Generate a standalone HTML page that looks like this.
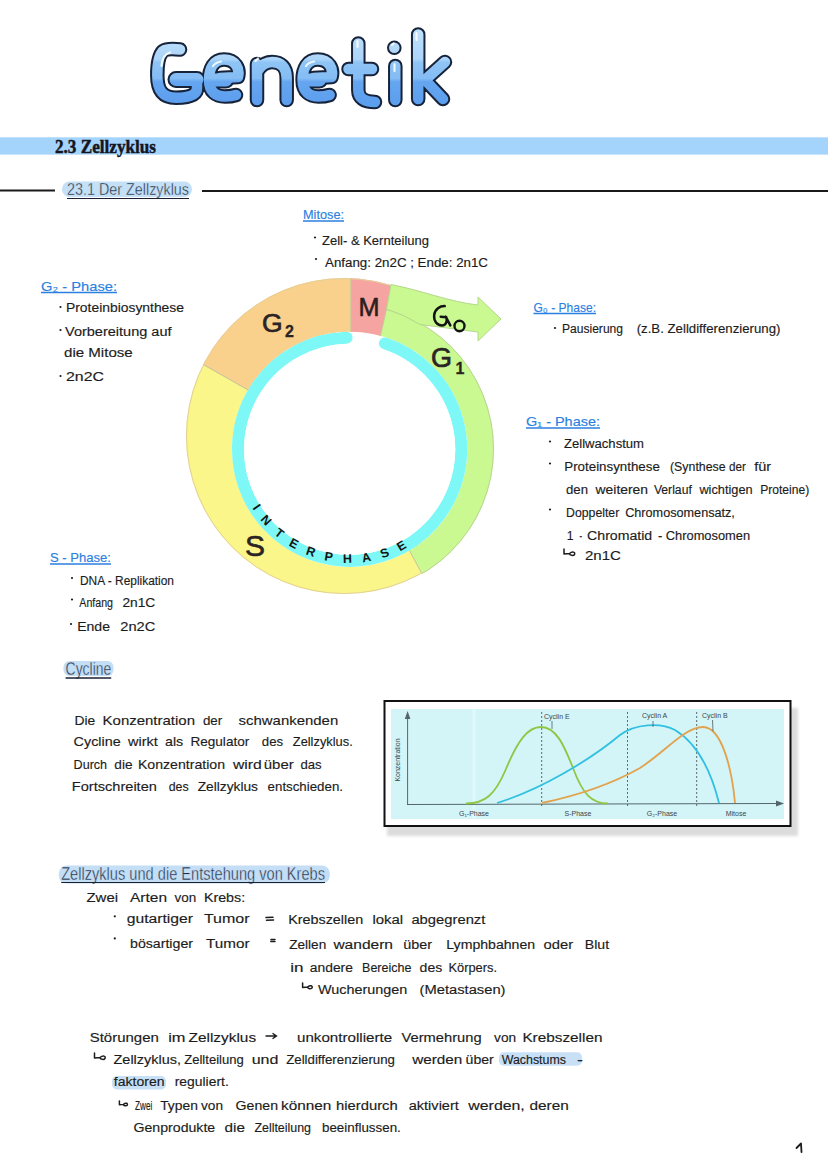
<!DOCTYPE html>
<html><head><meta charset="utf-8"><style>
html,body{margin:0;padding:0;background:#fff;}
svg{display:block;}
</style></head><body>
<svg width="828" height="1171" viewBox="0 0 828 1171">
<rect x="0" y="0" width="828" height="1171" fill="#ffffff"/>
<defs><linearGradient id="tg" gradientUnits="userSpaceOnUse" x1="0" y1="28" x2="0" y2="108"><stop offset="0" stop-color="#c0e1fc"/><stop offset="0.39" stop-color="#acd5f9"/><stop offset="0.43" stop-color="#8fc4f5"/><stop offset="0.63" stop-color="#84bdf4"/><stop offset="0.67" stop-color="#66a6f0"/><stop offset="1" stop-color="#5a9dee"/></linearGradient></defs>
<path d="M180,49.5 C172,48.5 166,49 163,51 C159,55 157.3,63 157.3,75 C157.3,90 162,97.7 176,97.7 C189,97.7 197,95 197,88 L197,82 M220.0,78 L238.0,77 C240.0,69 236.0,59.5 224.0,59.5 C214.0,59.5 209.0,68 209.0,80 C209.0,92 216.0,96.5 225.0,96.5 C230.0,96.5 233.0,96 236.0,95 M257,100 L257,64 M257,72 C261,65 266,62 272,62 C281,62 286.7,67 286.7,78 L286.7,100 M313.6,78 L331.6,77 C333.6,69 329.6,59.5 317.6,59.5 C307.6,59.5 302.6,68 302.6,80 C302.6,92 309.6,96.5 318.6,96.5 C323.6,96.5 326.6,96 329.6,95 M358.3,43.5 L358.3,90 C358.3,98 364,102 375,102 M348.5,69 L372,69 M395.3,66 L395.3,100 M418.2,34.5 L418.2,99 M445,62 L425,80 L443,99" fill="none" stroke="#16233a" stroke-width="14.5" stroke-linecap="round" stroke-linejoin="round"/>
<circle cx="394.3" cy="47.8" r="7.3" fill="#16233a"/>
<path d="M176,79.5 L197,79.5 M215,80 L226,80 M308.6,80 L319.6,80" stroke="#16233a" stroke-width="17" stroke-linecap="round"/>
<path d="M180,49.5 C172,48.5 166,49 163,51 C159,55 157.3,63 157.3,75 C157.3,90 162,97.7 176,97.7 C189,97.7 197,95 197,88 L197,82 M220.0,78 L238.0,77 C240.0,69 236.0,59.5 224.0,59.5 C214.0,59.5 209.0,68 209.0,80 C209.0,92 216.0,96.5 225.0,96.5 C230.0,96.5 233.0,96 236.0,95 M257,100 L257,64 M257,72 C261,65 266,62 272,62 C281,62 286.7,67 286.7,78 L286.7,100 M313.6,78 L331.6,77 C333.6,69 329.6,59.5 317.6,59.5 C307.6,59.5 302.6,68 302.6,80 C302.6,92 309.6,96.5 318.6,96.5 C323.6,96.5 326.6,96 329.6,95 M358.3,43.5 L358.3,90 C358.3,98 364,102 375,102 M348.5,69 L372,69 M395.3,66 L395.3,100 M418.2,34.5 L418.2,99 M445,62 L425,80 L443,99" fill="none" stroke="url(#tg)" stroke-width="10.5" stroke-linecap="round" stroke-linejoin="round"/>
<circle cx="394.3" cy="47.8" r="5.3" fill="url(#tg)"/>
<path d="M176,79.5 L197,79.5 M215,80 L226,80 M308.6,80 L319.6,80" stroke="url(#tg)" stroke-width="13" stroke-linecap="round"/>
<path d="M161.5,66 C162,59 165,54 170,52.5 M213,66 C215,63 218,62 221,61.5 M255.5,61 L258,58.5 M306,66 C308,63 311,62 314,61.5 M357.5,41 L357.5,47 M392,45 L393.5,43.5 M394.5,64 L394.5,71 M416.5,33 L416.5,40" stroke="#ffffff" stroke-opacity="0.85" stroke-width="2.2" stroke-linecap="round" fill="none"/>
<rect x="0" y="137.3" width="828" height="17.3" fill="#a4d4fb"/>
<text x="55" y="152.5" textLength="101" lengthAdjust="spacingAndGlyphs" font-size="19.5" fill="#15151f" font-weight="bold" font-family='"Liberation Serif", serif' stroke="#15151f" stroke-width="0.5">2.3 Zellzyklus</text>
<line x1="0" y1="190.5" x2="55" y2="190.5" stroke="#1a1a1a" stroke-width="2"/>
<line x1="202" y1="191" x2="828" y2="191" stroke="#1a1a1a" stroke-width="2"/>
<rect x="62" y="181.5" width="130" height="15.5" rx="7.5" fill="#c4e0f7"/>
<text x="67" y="195" textLength="122" lengthAdjust="spacingAndGlyphs" font-size="16.5" fill="#1f2638" font-weight="normal" font-family='"Liberation Sans", sans-serif' stroke="#c4e0f7" stroke-width="0.4">23.1 Der Zellzyklus</text>
<line x1="67" y1="198.5" x2="189" y2="198.5" stroke="#1b2030" stroke-width="1.2"/>
<defs>
<clipPath id="band"><path fill-rule="evenodd" clip-rule="evenodd" d="M186,436 a158,158 0 1,0 316,0 a158,158 0 1,0 -316,0 Z M232.1,449.3 a117.6,117.6 0 1,0 235.2,0 a117.6,117.6 0 1,0 -235.2,0 Z"/></clipPath>
<clipPath id="band1"><path fill-rule="evenodd" clip-rule="evenodd" d="M204,449 a145,145 0 1,0 290,0 a145,145 0 1,0 -290,0 Z M232.1,449.3 a117.6,117.6 0 1,0 235.2,0 a117.6,117.6 0 1,0 -235.2,0 Z"/></clipPath>
</defs>
<defs><clipPath id="g1seg"><polygon points="411.5,200 378.3,345 382,500 447,620 560,620 560,200"/></clipPath></defs>
<g clip-path="url(#band1)"><polygon fill="#c9f990" points="411.5,200 378.3,345 382,500 447,620 560,620 560,200"/></g>
<circle cx="349" cy="449" r="144.5" fill="none" stroke="#bcd39a" stroke-width="1" clip-path="url(#g1seg)"/>
<g clip-path="url(#band)" stroke="#c9c49a" stroke-width="1">
<polygon fill="#fad18c" points="140,200 351,200 351,420 290,420 248,390 204,365 140,329"/>
<polygon fill="#f6a4a1" points="351,200 411.5,200 378.3,345 351,345"/>
<polygon fill="#fbf68a" points="140,329 204,365 248,390 290,420 382,500 447,620 140,620"/>
</g>
<defs><clipPath id="leftseg"><polygon points="140,200 411.5,200 378.3,345 382,500 447,620 140,620"/></clipPath></defs>
<circle cx="344" cy="436" r="157.5" fill="none" stroke="#e2cf98" stroke-width="1" clip-path="url(#leftseg)"/>
<path fill="#c9f990" stroke="#b5d88a" stroke-width="1" d="M391,284.5 C420,290 450,302 478,305 L478,297 L501,319 L478,341 L478,332 L420,324.5 A145,145 0 0,0 386.5,309 Z"/>
<path fill="none" stroke="#7ef8f6" stroke-width="12" stroke-linecap="round" d="M384.9,343.4 A111.6,111.6 0 1,1 346.6,337.7"/>
<circle cx="349.7" cy="449.3" r="105.6" fill="#ffffff"/>
<path id="ip" fill="none" d="M251.4,506.1 A113.5,113.5 0 0,0 430.0,529.6"/>
<text font-size="12.5" font-weight="bold" fill="#141414" font-family='"Liberation Sans", sans-serif' letter-spacing="10.7"><textPath href="#ip" startOffset="2">INTERPHASE</textPath></text>
<text x="262" y="332" font-size="26.5" fill="#2b2424" stroke="#2b2424" stroke-width="0.7" font-weight="normal" font-family='"Liberation Sans", sans-serif'>G</text>
<text x="285" y="337" font-size="16" fill="#2b2424" stroke="#2b2424" stroke-width="0.3" font-weight="bold" font-family='"Liberation Sans", sans-serif'>2</text>
<text x="358.5" y="315.5" font-size="26" textLength="21" lengthAdjust="spacingAndGlyphs" fill="#2b2020" stroke="#2b2020" stroke-width="0.6" font-family='"Liberation Sans", sans-serif'>M</text>
<text x="431" y="367" font-size="27" fill="#2b2424" stroke="#2b2424" stroke-width="0.7" font-weight="normal" font-family='"Liberation Sans", sans-serif'>G</text>
<text x="455.5" y="373.5" font-size="16" fill="#2b2424" stroke="#2b2424" stroke-width="0.3" font-weight="bold" font-family='"Liberation Sans", sans-serif'>1</text>
<text x="245" y="555.5" font-size="30" fill="#2b2424" stroke="#2b2424" stroke-width="0.6" font-weight="normal" font-family='"Liberation Sans", sans-serif'>S</text>
<path d="M444.7,306.1 C440,306 435,309 434.2,315 C433.5,321 437,325.5 442.2,325.4 C446,325.3 447.5,321 446.3,317.2 L440.7,316.7 M445.8,316.7 L450.3,325.4" fill="none" stroke="#141414" stroke-width="2.5" stroke-linecap="round" stroke-linejoin="round"/>
<ellipse cx="459.5" cy="326" rx="5" ry="5.3" fill="none" stroke="#141414" stroke-width="2.4"/>
<text x="303" y="219" textLength="41" lengthAdjust="spacingAndGlyphs" font-size="13" fill="#2b7fe0" font-weight="normal" font-family='"Liberation Sans", sans-serif' stroke="#2b7fe0" stroke-width="0.15">Mitose:</text>
<line x1="303" y1="221" x2="344" y2="221" stroke="#2b7fe0" stroke-width="1.6"/>
<circle cx="315" cy="237.5" r="1.1" fill="#1c1c1c"/>
<text x="322" y="245" textLength="107" lengthAdjust="spacingAndGlyphs" font-size="12.5" fill="#1c1c1c" font-weight="normal" font-family='"Liberation Sans", sans-serif' stroke="#1c1c1c" stroke-width="0.15">Zell- &amp; Kernteilung</text>
<circle cx="316" cy="259" r="1.1" fill="#1c1c1c"/>
<text x="325" y="267" textLength="163" lengthAdjust="spacingAndGlyphs" font-size="12.5" fill="#1c1c1c" font-weight="normal" font-family='"Liberation Sans", sans-serif' stroke="#1c1c1c" stroke-width="0.15">Anfang: 2n2C ; Ende: 2n1C</text>
<text x="41" y="290.5" textLength="76" lengthAdjust="spacingAndGlyphs" font-size="13" fill="#2b7fe0" font-weight="normal" font-family='"Liberation Sans", sans-serif' stroke="#2b7fe0" stroke-width="0.15">G₂ - Phase:</text>
<line x1="41" y1="292.5" x2="117" y2="292.5" stroke="#2b7fe0" stroke-width="1.6"/>
<circle cx="60.5" cy="307" r="1.1" fill="#1c1c1c"/>
<text x="66" y="312" textLength="118" lengthAdjust="spacingAndGlyphs" font-size="12.5" fill="#1c1c1c" font-weight="normal" font-family='"Liberation Sans", sans-serif' stroke="#1c1c1c" stroke-width="0.15">Proteinbiosynthese</text>
<circle cx="60.5" cy="330" r="1.1" fill="#1c1c1c"/>
<text x="65" y="335.7" textLength="106.5" lengthAdjust="spacingAndGlyphs" font-size="12.5" fill="#1c1c1c" font-weight="normal" font-family='"Liberation Sans", sans-serif' stroke="#1c1c1c" stroke-width="0.15">Vorbereitung auf</text>
<text x="64" y="357.3" textLength="68.69999999999999" lengthAdjust="spacingAndGlyphs" font-size="12.5" fill="#1c1c1c" font-weight="normal" font-family='"Liberation Sans", sans-serif' stroke="#1c1c1c" stroke-width="0.15">die Mitose</text>
<circle cx="60.5" cy="376" r="1.1" fill="#1c1c1c"/>
<text x="66" y="380.9" textLength="38" lengthAdjust="spacingAndGlyphs" font-size="12.5" fill="#1c1c1c" font-weight="normal" font-family='"Liberation Sans", sans-serif' stroke="#1c1c1c" stroke-width="0.15">2n2C</text>
<text x="533.5" y="311.5" textLength="62.5" lengthAdjust="spacingAndGlyphs" font-size="13" fill="#2b7fe0" font-weight="normal" font-family='"Liberation Sans", sans-serif' stroke="#2b7fe0" stroke-width="0.15">G₀ - Phase:</text>
<line x1="533.5" y1="313.5" x2="596" y2="313.5" stroke="#2b7fe0" stroke-width="1.6"/>
<circle cx="555" cy="328" r="1.1" fill="#1c1c1c"/>
<text x="562" y="332.9" textLength="61" lengthAdjust="spacingAndGlyphs" font-size="12.5" fill="#1c1c1c" font-weight="normal" font-family='"Liberation Sans", sans-serif' stroke="#1c1c1c" stroke-width="0.15">Pausierung</text>
<text x="636.7" y="332.9" textLength="143.69999999999993" lengthAdjust="spacingAndGlyphs" font-size="12.5" fill="#1c1c1c" font-weight="normal" font-family='"Liberation Sans", sans-serif' stroke="#1c1c1c" stroke-width="0.15">(z.B. Zelldifferenzierung)</text>
<text x="526" y="426" textLength="74" lengthAdjust="spacingAndGlyphs" font-size="13" fill="#2b7fe0" font-weight="normal" font-family='"Liberation Sans", sans-serif' stroke="#2b7fe0" stroke-width="0.15">G₁ - Phase:</text>
<line x1="526" y1="428" x2="600" y2="428" stroke="#2b7fe0" stroke-width="1.6"/>
<circle cx="550" cy="441.5" r="1.1" fill="#1c1c1c"/>
<text x="564" y="448" textLength="80" lengthAdjust="spacingAndGlyphs" font-size="12.5" fill="#1c1c1c" font-weight="normal" font-family='"Liberation Sans", sans-serif' stroke="#1c1c1c" stroke-width="0.15">Zellwachstum</text>
<circle cx="550" cy="463.5" r="1.1" fill="#1c1c1c"/>
<text x="564.3" y="471" textLength="95.5" lengthAdjust="spacingAndGlyphs" font-size="12.5" fill="#1c1c1c" font-weight="normal" font-family='"Liberation Sans", sans-serif' stroke="#1c1c1c" stroke-width="0.15">Proteinsynthese</text>
<text x="670" y="471" textLength="55.60000000000002" lengthAdjust="spacingAndGlyphs" font-size="12.5" fill="#1c1c1c" font-weight="normal" font-family='"Liberation Sans", sans-serif' stroke="#1c1c1c" stroke-width="0.15">(Synthese</text>
<text x="729" y="471" textLength="16.899999999999977" lengthAdjust="spacingAndGlyphs" font-size="12.5" fill="#1c1c1c" font-weight="normal" font-family='"Liberation Sans", sans-serif' stroke="#1c1c1c" stroke-width="0.15">der</text>
<text x="754.3" y="471" textLength="16.90000000000009" lengthAdjust="spacingAndGlyphs" font-size="12.5" fill="#1c1c1c" font-weight="normal" font-family='"Liberation Sans", sans-serif' stroke="#1c1c1c" stroke-width="0.15">für</text>
<text x="566" y="494" textLength="22" lengthAdjust="spacingAndGlyphs" font-size="12.5" fill="#1c1c1c" font-weight="normal" font-family='"Liberation Sans", sans-serif' stroke="#1c1c1c" stroke-width="0.15">den</text>
<text x="595.6" y="494" textLength="52.39999999999998" lengthAdjust="spacingAndGlyphs" font-size="12.5" fill="#1c1c1c" font-weight="normal" font-family='"Liberation Sans", sans-serif' stroke="#1c1c1c" stroke-width="0.15">weiteren</text>
<text x="653.9" y="494" textLength="37.89999999999998" lengthAdjust="spacingAndGlyphs" font-size="12.5" fill="#1c1c1c" font-weight="normal" font-family='"Liberation Sans", sans-serif' stroke="#1c1c1c" stroke-width="0.15">Verlauf</text>
<text x="699.4" y="494" textLength="53.200000000000045" lengthAdjust="spacingAndGlyphs" font-size="12.5" fill="#1c1c1c" font-weight="normal" font-family='"Liberation Sans", sans-serif' stroke="#1c1c1c" stroke-width="0.15">wichtigen</text>
<text x="760.2" y="494" textLength="49.09999999999991" lengthAdjust="spacingAndGlyphs" font-size="12.5" fill="#1c1c1c" font-weight="normal" font-family='"Liberation Sans", sans-serif' stroke="#1c1c1c" stroke-width="0.15">Proteine)</text>
<circle cx="550" cy="509.5" r="1.1" fill="#1c1c1c"/>
<text x="566" y="517" textLength="53.299999999999955" lengthAdjust="spacingAndGlyphs" font-size="12.5" fill="#1c1c1c" font-weight="normal" font-family='"Liberation Sans", sans-serif' stroke="#1c1c1c" stroke-width="0.15">Doppelter</text>
<text x="625.2" y="517" textLength="109.69999999999993" lengthAdjust="spacingAndGlyphs" font-size="12.5" fill="#1c1c1c" font-weight="normal" font-family='"Liberation Sans", sans-serif' stroke="#1c1c1c" stroke-width="0.15">Chromosomensatz,</text>
<text x="566.8" y="540" textLength="6.800000000000068" lengthAdjust="spacingAndGlyphs" font-size="12.5" fill="#1c1c1c" font-weight="normal" font-family='"Liberation Sans", sans-serif' stroke="#1c1c1c" stroke-width="0.15">1</text>
<text x="579.5" y="540" textLength="2.5" lengthAdjust="spacingAndGlyphs" font-size="12.5" fill="#1c1c1c" font-weight="normal" font-family='"Liberation Sans", sans-serif' stroke="#1c1c1c" stroke-width="0.15">-</text>
<text x="587.1" y="540" textLength="65.10000000000002" lengthAdjust="spacingAndGlyphs" font-size="12.5" fill="#1c1c1c" font-weight="normal" font-family='"Liberation Sans", sans-serif' stroke="#1c1c1c" stroke-width="0.15">Chromatid</text>
<text x="658.1" y="540" textLength="4.2999999999999545" lengthAdjust="spacingAndGlyphs" font-size="12.5" fill="#1c1c1c" font-weight="normal" font-family='"Liberation Sans", sans-serif' stroke="#1c1c1c" stroke-width="0.15">-</text>
<text x="665.8" y="540" textLength="84.30000000000007" lengthAdjust="spacingAndGlyphs" font-size="12.5" fill="#1c1c1c" font-weight="normal" font-family='"Liberation Sans", sans-serif' stroke="#1c1c1c" stroke-width="0.15">Chromosomen</text>
<path d="M564,549 L564,554.0 L569.5,553.5 C572.5,551.0 575.5,552.0 574.5,554.5 C573.5,556.0 569.5,555.5 569.5,553.5" fill="none" stroke="#1c1c1c" stroke-width="1.5" stroke-linecap="round" stroke-linejoin="round"/>
<text x="585" y="560" textLength="36" lengthAdjust="spacingAndGlyphs" font-size="12.5" fill="#1c1c1c" font-weight="normal" font-family='"Liberation Sans", sans-serif' stroke="#1c1c1c" stroke-width="0.15">2n1C</text>
<text x="50" y="562" textLength="61" lengthAdjust="spacingAndGlyphs" font-size="13" fill="#2b7fe0" font-weight="normal" font-family='"Liberation Sans", sans-serif' stroke="#2b7fe0" stroke-width="0.15">S - Phase:</text>
<line x1="50" y1="564" x2="111" y2="564" stroke="#2b7fe0" stroke-width="1.6"/>
<circle cx="72" cy="578" r="1.1" fill="#1c1c1c"/>
<text x="80" y="585" textLength="94" lengthAdjust="spacingAndGlyphs" font-size="12.5" fill="#1c1c1c" font-weight="normal" font-family='"Liberation Sans", sans-serif' stroke="#1c1c1c" stroke-width="0.15">DNA - Replikation</text>
<circle cx="72" cy="599.5" r="1.1" fill="#1c1c1c"/>
<text x="79.3" y="607" textLength="33.7" lengthAdjust="spacingAndGlyphs" font-size="12.5" fill="#1c1c1c" font-weight="normal" font-family='"Liberation Sans", sans-serif' stroke="#1c1c1c" stroke-width="0.15">Anfang</text>
<text x="122.4" y="607" textLength="32.900000000000006" lengthAdjust="spacingAndGlyphs" font-size="12.5" fill="#1c1c1c" font-weight="normal" font-family='"Liberation Sans", sans-serif' stroke="#1c1c1c" stroke-width="0.15">2n1C</text>
<circle cx="71" cy="624" r="1.1" fill="#1c1c1c"/>
<text x="77.2" y="631" textLength="32.8" lengthAdjust="spacingAndGlyphs" font-size="12.5" fill="#1c1c1c" font-weight="normal" font-family='"Liberation Sans", sans-serif' stroke="#1c1c1c" stroke-width="0.15">Ende</text>
<text x="120.3" y="631" textLength="35.000000000000014" lengthAdjust="spacingAndGlyphs" font-size="12.5" fill="#1c1c1c" font-weight="normal" font-family='"Liberation Sans", sans-serif' stroke="#1c1c1c" stroke-width="0.15">2n2C</text>
<rect x="63.5" y="661" width="50" height="15" rx="6" fill="#c3def5"/>
<text x="65.6" y="675.4" textLength="45.60000000000001" lengthAdjust="spacingAndGlyphs" font-size="17.5" fill="#243045" font-weight="normal" font-family='"Liberation Sans", sans-serif' stroke="#c3def5" stroke-width="0.4">Cycline</text>
<line x1="65.6" y1="678" x2="111.2" y2="678" stroke="#1b2030" stroke-width="1.3"/>
<text x="74.5" y="724.6" textLength="20.799999999999997" lengthAdjust="spacingAndGlyphs" font-size="13.5" fill="#1c1c1c" font-weight="normal" font-family='"Liberation Sans", sans-serif' stroke="#1c1c1c" stroke-width="0.15">Die</text>
<text x="102.6" y="724.6" textLength="92.4" lengthAdjust="spacingAndGlyphs" font-size="13.5" fill="#1c1c1c" font-weight="normal" font-family='"Liberation Sans", sans-serif' stroke="#1c1c1c" stroke-width="0.15">Konzentration</text>
<text x="202.9" y="724.6" textLength="19.299999999999983" lengthAdjust="spacingAndGlyphs" font-size="13.5" fill="#1c1c1c" font-weight="normal" font-family='"Liberation Sans", sans-serif' stroke="#1c1c1c" stroke-width="0.15">der</text>
<text x="238.6" y="724.6" textLength="99.6" lengthAdjust="spacingAndGlyphs" font-size="13.5" fill="#1c1c1c" font-weight="normal" font-family='"Liberation Sans", sans-serif' stroke="#1c1c1c" stroke-width="0.15">schwankenden</text>
<text x="73.6" y="746.4" textLength="47.10000000000001" lengthAdjust="spacingAndGlyphs" font-size="13.5" fill="#1c1c1c" font-weight="normal" font-family='"Liberation Sans", sans-serif' stroke="#1c1c1c" stroke-width="0.15">Cycline</text>
<text x="128" y="746.4" textLength="29.80000000000001" lengthAdjust="spacingAndGlyphs" font-size="13.5" fill="#1c1c1c" font-weight="normal" font-family='"Liberation Sans", sans-serif' stroke="#1c1c1c" stroke-width="0.15">wirkt</text>
<text x="165" y="746.4" textLength="18.19999999999999" lengthAdjust="spacingAndGlyphs" font-size="13.5" fill="#1c1c1c" font-weight="normal" font-family='"Liberation Sans", sans-serif' stroke="#1c1c1c" stroke-width="0.15">als</text>
<text x="190.4" y="746.4" textLength="58.900000000000006" lengthAdjust="spacingAndGlyphs" font-size="13.5" fill="#1c1c1c" font-weight="normal" font-family='"Liberation Sans", sans-serif' stroke="#1c1c1c" stroke-width="0.15">Regulator</text>
<text x="261.8" y="746.4" textLength="21.30000000000001" lengthAdjust="spacingAndGlyphs" font-size="13.5" fill="#1c1c1c" font-weight="normal" font-family='"Liberation Sans", sans-serif' stroke="#1c1c1c" stroke-width="0.15">des</text>
<text x="292.8" y="746.4" textLength="59.89999999999998" lengthAdjust="spacingAndGlyphs" font-size="13.5" fill="#1c1c1c" font-weight="normal" font-family='"Liberation Sans", sans-serif' stroke="#1c1c1c" stroke-width="0.15">Zellzyklus.</text>
<text x="73.6" y="768.8" textLength="33.5" lengthAdjust="spacingAndGlyphs" font-size="13.5" fill="#1c1c1c" font-weight="normal" font-family='"Liberation Sans", sans-serif' stroke="#1c1c1c" stroke-width="0.15">Durch</text>
<text x="114.3" y="768.8" textLength="18.200000000000003" lengthAdjust="spacingAndGlyphs" font-size="13.5" fill="#1c1c1c" font-weight="normal" font-family='"Liberation Sans", sans-serif' stroke="#1c1c1c" stroke-width="0.15">die</text>
<text x="137.9" y="768.8" textLength="87.19999999999999" lengthAdjust="spacingAndGlyphs" font-size="13.5" fill="#1c1c1c" font-weight="normal" font-family='"Liberation Sans", sans-serif' stroke="#1c1c1c" stroke-width="0.15">Konzentration</text>
<text x="232.9" y="768.8" textLength="28.900000000000006" lengthAdjust="spacingAndGlyphs" font-size="13.5" fill="#1c1c1c" font-weight="normal" font-family='"Liberation Sans", sans-serif' stroke="#1c1c1c" stroke-width="0.15">wird</text>
<text x="263.8" y="768.8" textLength="29.899999999999977" lengthAdjust="spacingAndGlyphs" font-size="13.5" fill="#1c1c1c" font-weight="normal" font-family='"Liberation Sans", sans-serif' stroke="#1c1c1c" stroke-width="0.15">über</text>
<text x="300.5" y="768.8" textLength="21.19999999999999" lengthAdjust="spacingAndGlyphs" font-size="13.5" fill="#1c1c1c" font-weight="normal" font-family='"Liberation Sans", sans-serif' stroke="#1c1c1c" stroke-width="0.15">das</text>
<text x="71.8" y="790.6" textLength="85.10000000000001" lengthAdjust="spacingAndGlyphs" font-size="13.5" fill="#1c1c1c" font-weight="normal" font-family='"Liberation Sans", sans-serif' stroke="#1c1c1c" stroke-width="0.15">Fortschreiten</text>
<text x="168.7" y="790.6" textLength="19.900000000000006" lengthAdjust="spacingAndGlyphs" font-size="13.5" fill="#1c1c1c" font-weight="normal" font-family='"Liberation Sans", sans-serif' stroke="#1c1c1c" stroke-width="0.15">des</text>
<text x="197.7" y="790.6" textLength="60.30000000000001" lengthAdjust="spacingAndGlyphs" font-size="13.5" fill="#1c1c1c" font-weight="normal" font-family='"Liberation Sans", sans-serif' stroke="#1c1c1c" stroke-width="0.15">Zellzyklus</text>
<text x="267.6" y="790.6" textLength="75.39999999999998" lengthAdjust="spacingAndGlyphs" font-size="13.5" fill="#1c1c1c" font-weight="normal" font-family='"Liberation Sans", sans-serif' stroke="#1c1c1c" stroke-width="0.15">entschieden.</text>
<defs><filter id="blur2" x="-5%" y="-5%" width="110%" height="120%"><feGaussianBlur stdDeviation="1.8"/></filter></defs>
<rect x="387" y="708" width="411" height="128" fill="#dcdcdc" filter="url(#blur2)"/>
<rect x="384.5" y="701" width="406" height="125" fill="#ffffff" stroke="#111" stroke-width="2"/>
<rect x="391" y="709" width="393" height="110" fill="#d3f5f8"/>
<rect x="472.5" y="709" width="3" height="110" fill="#e0f9fa"/>
<path d="M407.6,805 L407.6,716 M407,804.5 L778,803.5" stroke="#55666b" stroke-width="1" fill="none"/>
<path d="M404.8,719 L407.6,711 L410.4,719 Z M776,800.5 L784,803.5 L776,806.5 Z" fill="#55666b"/>
<line x1="541.7" y1="712" x2="541.7" y2="806" stroke="#4f5a5e" stroke-width="0.9" stroke-dasharray="2,2"/>
<line x1="627.5" y1="712" x2="627.5" y2="806" stroke="#4f5a5e" stroke-width="0.9" stroke-dasharray="2,2"/>
<line x1="696.7" y1="712" x2="696.7" y2="806" stroke="#4f5a5e" stroke-width="0.9" stroke-dasharray="2,2"/>
<path d="M466,803.5 C485,803.5 495,795 506,769 C518,740 528,727 541,727 C556,727 564,745 573,768 C583,795 592,803.5 608,803.5" fill="none" stroke="#8dc743" stroke-width="1.8"/>
<path d="M497,803 C540,790 590,760 620,735 C635,724 660,722 675,730 C700,745 712,775 719,803" fill="none" stroke="#31c0e2" stroke-width="1.8"/>
<path d="M542,803 C580,795 610,785 640,768 C665,752 685,727 703,727 C722,727 732,770 735,803" fill="none" stroke="#e2a24c" stroke-width="1.8"/>
<path d="M552,721 L552,729 M653,721 L653,727 M712.5,720 L713,731" stroke="#4f5a5e" stroke-width="0.8"/>
<text x="544" y="719" font-size="7" fill="#3c4548" text-anchor="start" font-family='"Liberation Sans", sans-serif'>Cyclin E</text>
<text x="642" y="718" font-size="7" fill="#3c4548" text-anchor="start" font-family='"Liberation Sans", sans-serif'>Cyclin A</text>
<text x="702" y="718" font-size="7" fill="#3c4548" text-anchor="start" font-family='"Liberation Sans", sans-serif'>Cyclin B</text>
<text x="474" y="815.5" font-size="7" fill="#3c4548" text-anchor="middle" font-family='"Liberation Sans", sans-serif'>G₁-Phase</text>
<text x="578" y="815.5" font-size="7" fill="#3c4548" text-anchor="middle" font-family='"Liberation Sans", sans-serif'>S-Phase</text>
<text x="662" y="815.5" font-size="7" fill="#3c4548" text-anchor="middle" font-family='"Liberation Sans", sans-serif'>G₂-Phase</text>
<text x="736" y="815.5" font-size="7" fill="#3c4548" text-anchor="middle" font-family='"Liberation Sans", sans-serif'>Mitose</text>
<text transform="translate(399.5,760) rotate(-90)" font-size="7" fill="#3c4548" text-anchor="middle" font-family='"Liberation Sans", sans-serif'>Konzentration</text>
<rect x="58.8" y="865.5" width="271" height="18" rx="8" fill="#c3def5"/>
<text x="61.2" y="880.2" textLength="263.8" lengthAdjust="spacingAndGlyphs" font-size="17.5" fill="#243045" font-weight="normal" font-family='"Liberation Sans", sans-serif' stroke="#c3def5" stroke-width="0.4">Zellzyklus und die Entstehung von Krebs</text>
<line x1="61.2" y1="882.5" x2="325" y2="882.5" stroke="#1b2030" stroke-width="1.2"/>
<text x="86.5" y="902.3" textLength="31.5" lengthAdjust="spacingAndGlyphs" font-size="12.5" fill="#1c1c1c" font-weight="normal" font-family='"Liberation Sans", sans-serif' stroke="#1c1c1c" stroke-width="0.15">Zwei</text>
<text x="130" y="902.3" textLength="37" lengthAdjust="spacingAndGlyphs" font-size="12.5" fill="#1c1c1c" font-weight="normal" font-family='"Liberation Sans", sans-serif' stroke="#1c1c1c" stroke-width="0.15">Arten</text>
<text x="174.6" y="902.3" textLength="21.700000000000017" lengthAdjust="spacingAndGlyphs" font-size="12.5" fill="#1c1c1c" font-weight="normal" font-family='"Liberation Sans", sans-serif' stroke="#1c1c1c" stroke-width="0.15">von</text>
<text x="203.9" y="902.3" textLength="41.29999999999998" lengthAdjust="spacingAndGlyphs" font-size="12.5" fill="#1c1c1c" font-weight="normal" font-family='"Liberation Sans", sans-serif' stroke="#1c1c1c" stroke-width="0.15">Krebs:</text>
<circle cx="114.8" cy="916.3" r="1.1" fill="#1c1c1c"/>
<text x="126.7" y="923.3" textLength="66.3" lengthAdjust="spacingAndGlyphs" font-size="12.5" fill="#1c1c1c" font-weight="normal" font-family='"Liberation Sans", sans-serif' stroke="#1c1c1c" stroke-width="0.15">gutartiger</text>
<text x="203.9" y="923.3" textLength="45.69999999999999" lengthAdjust="spacingAndGlyphs" font-size="12.5" fill="#1c1c1c" font-weight="normal" font-family='"Liberation Sans", sans-serif' stroke="#1c1c1c" stroke-width="0.15">Tumor</text>
<path d="M266,917.6 L273,917.3 M266.5,920.2 L273.5,920 M271,939.6 L275,939.4 M270.8,941.6 L275,941.5" stroke="#1c1c1c" stroke-width="1.5" stroke-linecap="round"/>
<text x="288.2" y="924" textLength="75.0" lengthAdjust="spacingAndGlyphs" font-size="12.5" fill="#1c1c1c" font-weight="normal" font-family='"Liberation Sans", sans-serif' stroke="#1c1c1c" stroke-width="0.15">Krebszellen</text>
<text x="372.4" y="924" textLength="30.80000000000001" lengthAdjust="spacingAndGlyphs" font-size="12.5" fill="#1c1c1c" font-weight="normal" font-family='"Liberation Sans", sans-serif' stroke="#1c1c1c" stroke-width="0.15">lokal</text>
<text x="411.4" y="924" textLength="74.0" lengthAdjust="spacingAndGlyphs" font-size="12.5" fill="#1c1c1c" font-weight="normal" font-family='"Liberation Sans", sans-serif' stroke="#1c1c1c" stroke-width="0.15">abgegrenzt</text>
<circle cx="114.8" cy="938.4" r="1.1" fill="#1c1c1c"/>
<text x="130" y="947.8" textLength="63" lengthAdjust="spacingAndGlyphs" font-size="12.5" fill="#1c1c1c" font-weight="normal" font-family='"Liberation Sans", sans-serif' stroke="#1c1c1c" stroke-width="0.15">bösartiger</text>
<text x="206" y="947.8" textLength="43.599999999999994" lengthAdjust="spacingAndGlyphs" font-size="12.5" fill="#1c1c1c" font-weight="normal" font-family='"Liberation Sans", sans-serif' stroke="#1c1c1c" stroke-width="0.15">Tumor</text>
<text x="289.2" y="948.7" textLength="37.0" lengthAdjust="spacingAndGlyphs" font-size="12.5" fill="#1c1c1c" font-weight="normal" font-family='"Liberation Sans", sans-serif' stroke="#1c1c1c" stroke-width="0.15">Zellen</text>
<text x="333.4" y="948.7" textLength="59.60000000000002" lengthAdjust="spacingAndGlyphs" font-size="12.5" fill="#1c1c1c" font-weight="normal" font-family='"Liberation Sans", sans-serif' stroke="#1c1c1c" stroke-width="0.15">wandern</text>
<text x="403.2" y="948.7" textLength="28.80000000000001" lengthAdjust="spacingAndGlyphs" font-size="12.5" fill="#1c1c1c" font-weight="normal" font-family='"Liberation Sans", sans-serif' stroke="#1c1c1c" stroke-width="0.15">über</text>
<text x="446.3" y="948.7" textLength="88.80000000000001" lengthAdjust="spacingAndGlyphs" font-size="12.5" fill="#1c1c1c" font-weight="normal" font-family='"Liberation Sans", sans-serif' stroke="#1c1c1c" stroke-width="0.15">Lymphbahnen</text>
<text x="543.6" y="948.7" textLength="29.600000000000023" lengthAdjust="spacingAndGlyphs" font-size="12.5" fill="#1c1c1c" font-weight="normal" font-family='"Liberation Sans", sans-serif' stroke="#1c1c1c" stroke-width="0.15">oder</text>
<text x="584.8" y="948.7" textLength="24.300000000000068" lengthAdjust="spacingAndGlyphs" font-size="12.5" fill="#1c1c1c" font-weight="normal" font-family='"Liberation Sans", sans-serif' stroke="#1c1c1c" stroke-width="0.15">Blut</text>
<text x="290.3" y="971.7" textLength="13.300000000000011" lengthAdjust="spacingAndGlyphs" font-size="12.5" fill="#1c1c1c" font-weight="normal" font-family='"Liberation Sans", sans-serif' stroke="#1c1c1c" stroke-width="0.15">in</text>
<text x="309.8" y="971.7" textLength="43.099999999999966" lengthAdjust="spacingAndGlyphs" font-size="12.5" fill="#1c1c1c" font-weight="normal" font-family='"Liberation Sans", sans-serif' stroke="#1c1c1c" stroke-width="0.15">andere</text>
<text x="362.1" y="971.7" textLength="49.299999999999955" lengthAdjust="spacingAndGlyphs" font-size="12.5" fill="#1c1c1c" font-weight="normal" font-family='"Liberation Sans", sans-serif' stroke="#1c1c1c" stroke-width="0.15">Bereiche</text>
<text x="419.6" y="971.7" textLength="22.599999999999966" lengthAdjust="spacingAndGlyphs" font-size="12.5" fill="#1c1c1c" font-weight="normal" font-family='"Liberation Sans", sans-serif' stroke="#1c1c1c" stroke-width="0.15">des</text>
<text x="448.5" y="971.7" textLength="48.5" lengthAdjust="spacingAndGlyphs" font-size="12.5" fill="#1c1c1c" font-weight="normal" font-family='"Liberation Sans", sans-serif' stroke="#1c1c1c" stroke-width="0.15">Körpers.</text>
<path d="M302.6,983 L302.6,987.5 L307.55,987.05 C310.25,984.8 312.95000000000005,985.7 312.05,987.95 C311.15000000000003,989.3 307.55,988.85 307.55,987.05" fill="none" stroke="#1c1c1c" stroke-width="1.5" stroke-linecap="round" stroke-linejoin="round"/>
<text x="318" y="993.5" textLength="89.30000000000001" lengthAdjust="spacingAndGlyphs" font-size="12.5" fill="#1c1c1c" font-weight="normal" font-family='"Liberation Sans", sans-serif' stroke="#1c1c1c" stroke-width="0.15">Wucherungen</text>
<text x="419.6" y="993.5" textLength="85.89999999999998" lengthAdjust="spacingAndGlyphs" font-size="12.5" fill="#1c1c1c" font-weight="normal" font-family='"Liberation Sans", sans-serif' stroke="#1c1c1c" stroke-width="0.15">(Metastasen)</text>
<text x="89.7" y="1042" textLength="69.10000000000001" lengthAdjust="spacingAndGlyphs" font-size="12.5" fill="#1c1c1c" font-weight="normal" font-family='"Liberation Sans", sans-serif' stroke="#1c1c1c" stroke-width="0.15">Störungen</text>
<text x="168.2" y="1042" textLength="17.30000000000001" lengthAdjust="spacingAndGlyphs" font-size="12.5" fill="#1c1c1c" font-weight="normal" font-family='"Liberation Sans", sans-serif' stroke="#1c1c1c" stroke-width="0.15">im</text>
<text x="188.6" y="1042" textLength="67.50000000000003" lengthAdjust="spacingAndGlyphs" font-size="12.5" fill="#1c1c1c" font-weight="normal" font-family='"Liberation Sans", sans-serif' stroke="#1c1c1c" stroke-width="0.15">Zellzyklus</text>
<path d="M265.5,1036 L276,1036 M272.5,1033.2 L276.5,1036 L272.5,1038.8" stroke="#1c1c1c" stroke-width="1.4" fill="none"/>
<text x="297" y="1042" textLength="95.10000000000002" lengthAdjust="spacingAndGlyphs" font-size="12.5" fill="#1c1c1c" font-weight="normal" font-family='"Liberation Sans", sans-serif' stroke="#1c1c1c" stroke-width="0.15">unkontrollierte</text>
<text x="401.5" y="1042" textLength="80.10000000000002" lengthAdjust="spacingAndGlyphs" font-size="12.5" fill="#1c1c1c" font-weight="normal" font-family='"Liberation Sans", sans-serif' stroke="#1c1c1c" stroke-width="0.15">Vermehrung</text>
<text x="494.1" y="1042" textLength="22.0" lengthAdjust="spacingAndGlyphs" font-size="12.5" fill="#1c1c1c" font-weight="normal" font-family='"Liberation Sans", sans-serif' stroke="#1c1c1c" stroke-width="0.15">von</text>
<text x="522.4" y="1042" textLength="80.10000000000002" lengthAdjust="spacingAndGlyphs" font-size="12.5" fill="#1c1c1c" font-weight="normal" font-family='"Liberation Sans", sans-serif' stroke="#1c1c1c" stroke-width="0.15">Krebszellen</text>
<rect x="499" y="1052.2" width="83" height="13.5" rx="5" fill="#c7e0f6"/>
<rect x="112" y="1076" width="54" height="13.4" rx="5" fill="#c7e0f6"/>
<path d="M94.5,1053 L94.5,1058.0 L100.0,1057.5 C103.0,1055.0 106.0,1056.0 105.0,1058.5 C104.0,1060.0 100.0,1059.5 100.0,1057.5" fill="none" stroke="#1c1c1c" stroke-width="1.5" stroke-linecap="round" stroke-linejoin="round"/>
<text x="113.5" y="1064" textLength="67.5" lengthAdjust="spacingAndGlyphs" font-size="12.5" fill="#1c1c1c" font-weight="normal" font-family='"Liberation Sans", sans-serif' stroke="#1c1c1c" stroke-width="0.15">Zellzyklus,</text>
<text x="184.2" y="1064" textLength="59.60000000000002" lengthAdjust="spacingAndGlyphs" font-size="12.5" fill="#1c1c1c" font-weight="normal" font-family='"Liberation Sans", sans-serif' stroke="#1c1c1c" stroke-width="0.15">Zellteilung</text>
<text x="251.7" y="1064" textLength="26.69999999999999" lengthAdjust="spacingAndGlyphs" font-size="12.5" fill="#1c1c1c" font-weight="normal" font-family='"Liberation Sans", sans-serif' stroke="#1c1c1c" stroke-width="0.15">und</text>
<text x="286.2" y="1064" textLength="108.80000000000001" lengthAdjust="spacingAndGlyphs" font-size="12.5" fill="#1c1c1c" font-weight="normal" font-family='"Liberation Sans", sans-serif' stroke="#1c1c1c" stroke-width="0.15">Zelldifferenzierung</text>
<text x="412.2" y="1064" textLength="50.19999999999999" lengthAdjust="spacingAndGlyphs" font-size="12.5" fill="#1c1c1c" font-weight="normal" font-family='"Liberation Sans", sans-serif' stroke="#1c1c1c" stroke-width="0.15">werden</text>
<text x="465.6" y="1064" textLength="28.19999999999999" lengthAdjust="spacingAndGlyphs" font-size="12.5" fill="#1c1c1c" font-weight="normal" font-family='"Liberation Sans", sans-serif' stroke="#1c1c1c" stroke-width="0.15">über</text>
<text x="501.7" y="1064" textLength="64.30000000000001" lengthAdjust="spacingAndGlyphs" font-size="12.5" fill="#1c1c1c" font-weight="normal" font-family='"Liberation Sans", sans-serif' stroke="#1c1c1c" stroke-width="0.15">Wachstums</text>
<text x="577" y="1064" textLength="6" lengthAdjust="spacingAndGlyphs" font-size="12.5" fill="#1c1c1c" font-weight="normal" font-family='"Liberation Sans", sans-serif' stroke="#1c1c1c" stroke-width="0.15">-</text>
<text x="113.8" y="1086" textLength="50.7" lengthAdjust="spacingAndGlyphs" font-size="12.5" fill="#1c1c1c" font-weight="normal" font-family='"Liberation Sans", sans-serif' stroke="#1c1c1c" stroke-width="0.15">faktoren</text>
<text x="174.7" y="1086" textLength="54.10000000000002" lengthAdjust="spacingAndGlyphs" font-size="12.5" fill="#1c1c1c" font-weight="normal" font-family='"Liberation Sans", sans-serif' stroke="#1c1c1c" stroke-width="0.15">reguliert.</text>
<path d="M119.4,1101 L119.4,1104.75 L123.525,1104.375 C125.775,1102.5 128.025,1103.25 127.275,1105.125 C126.525,1106.25 123.525,1105.875 123.525,1104.375" fill="none" stroke="#1c1c1c" stroke-width="1.5" stroke-linecap="round" stroke-linejoin="round"/>
<text x="135.1" y="1109.7" textLength="17.30000000000001" lengthAdjust="spacingAndGlyphs" font-size="12.5" fill="#1c1c1c" font-weight="normal" font-family='"Liberation Sans", sans-serif' stroke="#1c1c1c" stroke-width="0.15">Zwei</text>
<text x="160.2" y="1109.7" textLength="37.70000000000002" lengthAdjust="spacingAndGlyphs" font-size="12.5" fill="#1c1c1c" font-weight="normal" font-family='"Liberation Sans", sans-serif' stroke="#1c1c1c" stroke-width="0.15">Typen</text>
<text x="201" y="1109.7" textLength="22" lengthAdjust="spacingAndGlyphs" font-size="12.5" fill="#1c1c1c" font-weight="normal" font-family='"Liberation Sans", sans-serif' stroke="#1c1c1c" stroke-width="0.15">von</text>
<text x="235.6" y="1109.7" textLength="42.400000000000006" lengthAdjust="spacingAndGlyphs" font-size="12.5" fill="#1c1c1c" font-weight="normal" font-family='"Liberation Sans", sans-serif' stroke="#1c1c1c" stroke-width="0.15">Genen</text>
<text x="281.1" y="1109.7" textLength="50.299999999999955" lengthAdjust="spacingAndGlyphs" font-size="12.5" fill="#1c1c1c" font-weight="normal" font-family='"Liberation Sans", sans-serif' stroke="#1c1c1c" stroke-width="0.15">können</text>
<text x="336" y="1109.7" textLength="61.69999999999999" lengthAdjust="spacingAndGlyphs" font-size="12.5" fill="#1c1c1c" font-weight="normal" font-family='"Liberation Sans", sans-serif' stroke="#1c1c1c" stroke-width="0.15">hierdurch</text>
<text x="408.7" y="1109.7" textLength="50.19999999999999" lengthAdjust="spacingAndGlyphs" font-size="12.5" fill="#1c1c1c" font-weight="normal" font-family='"Liberation Sans", sans-serif' stroke="#1c1c1c" stroke-width="0.15">aktiviert</text>
<text x="468.3" y="1109.7" textLength="56.49999999999994" lengthAdjust="spacingAndGlyphs" font-size="12.5" fill="#1c1c1c" font-weight="normal" font-family='"Liberation Sans", sans-serif' stroke="#1c1c1c" stroke-width="0.15">werden,</text>
<text x="529.5" y="1109.7" textLength="39.299999999999955" lengthAdjust="spacingAndGlyphs" font-size="12.5" fill="#1c1c1c" font-weight="normal" font-family='"Liberation Sans", sans-serif' stroke="#1c1c1c" stroke-width="0.15">deren</text>
<text x="133.5" y="1131.7" textLength="81.69999999999999" lengthAdjust="spacingAndGlyphs" font-size="12.5" fill="#1c1c1c" font-weight="normal" font-family='"Liberation Sans", sans-serif' stroke="#1c1c1c" stroke-width="0.15">Genprodukte</text>
<text x="224.6" y="1131.7" textLength="20.400000000000006" lengthAdjust="spacingAndGlyphs" font-size="12.5" fill="#1c1c1c" font-weight="normal" font-family='"Liberation Sans", sans-serif' stroke="#1c1c1c" stroke-width="0.15">die</text>
<text x="254.4" y="1131.7" textLength="56.599999999999994" lengthAdjust="spacingAndGlyphs" font-size="12.5" fill="#1c1c1c" font-weight="normal" font-family='"Liberation Sans", sans-serif' stroke="#1c1c1c" stroke-width="0.15">Zellteilung</text>
<text x="322" y="1131.7" textLength="78.80000000000001" lengthAdjust="spacingAndGlyphs" font-size="12.5" fill="#1c1c1c" font-weight="normal" font-family='"Liberation Sans", sans-serif' stroke="#1c1c1c" stroke-width="0.15">beeinflussen.</text>
<path d="M796.5,1148 L801,1143.5 L801.5,1152" stroke="#1c1c1c" stroke-width="1.8" fill="none" stroke-linecap="round" stroke-linejoin="round"/>
</svg></body></html>
